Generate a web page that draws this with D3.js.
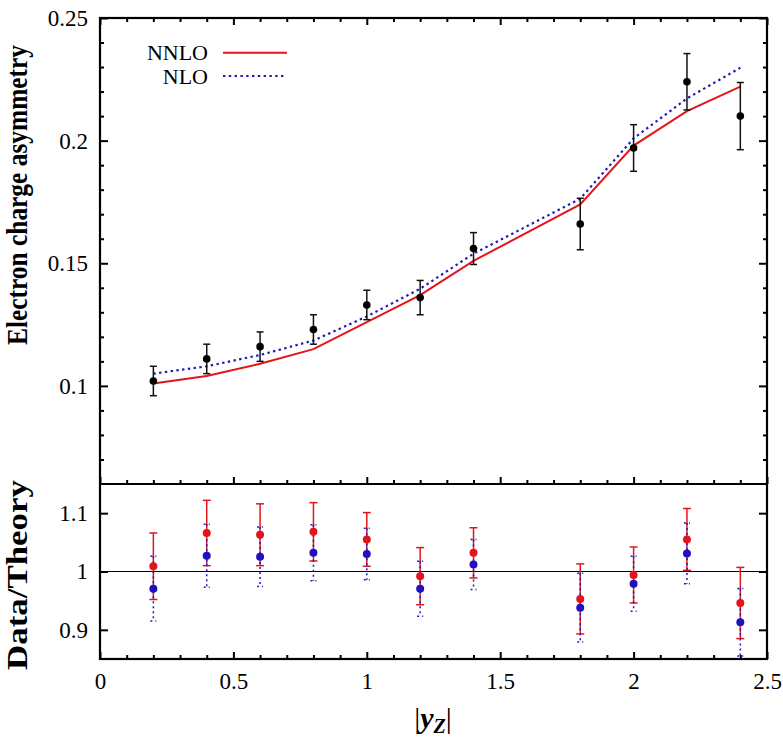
<!DOCTYPE html>
<html><head><meta charset="utf-8">
<script src="https://cdn.jsdelivr.net/npm/d3@7"></script>
<style>
body{margin:0;background:#fff;}
svg{display:block;}
text{font-family:"Liberation Serif","DejaVu Serif",serif;fill:#000;}
</style></head>
<body>
<script>
// ---- data ----
const yZ = [0.2, 0.4, 0.6, 0.8, 1.0, 1.2, 1.4, 1.8, 2.0, 2.2, 2.4];
const asymData = [0.102, 0.111, 0.116, 0.123, 0.133, 0.136, 0.156, 0.166, 0.197, 0.224, 0.210];
const asymErr  = [0.006, 0.006, 0.006, 0.006, 0.006, 0.007, 0.0065, 0.0105, 0.0095, 0.0115, 0.0137];
const nnloTheory = [0.101, 0.104, 0.109, 0.115, 0.126, 0.137, 0.151, 0.174, 0.198, 0.212, 0.222];
const nloTheory  = [0.105, 0.108, 0.1126, 0.1185, 0.1283, 0.1396, 0.1539, 0.1763, 0.2009, 0.2172, 0.2297];
const ratioNNLO    = [1.009, 1.066, 1.063, 1.068, 1.055, 0.992, 1.032, 0.953, 0.994, 1.055, 0.946];
const ratioNNLOErr = [0.057, 0.056, 0.053, 0.050, 0.046, 0.049, 0.043, 0.060, 0.048, 0.053, 0.061];
const ratioNLO     = [0.9705, 1.027, 1.0255, 1.032, 1.030, 0.9705, 1.012, 0.938, 0.979, 1.031, 0.913];
const ratioNLOErr  = [0.0555, 0.054, 0.051, 0.048, 0.044, 0.047, 0.043, 0.059, 0.047, 0.052, 0.058];
const xTicks = [0, 0.5, 1, 1.5, 2, 2.5];
const xTickLabels = ["0", "0.5", "1", "1.5", "2", "2.5"];
const xMinor = [0.1,0.2,0.3,0.4,0.6,0.7,0.8,0.9,1.1,1.2,1.3,1.4,1.6,1.7,1.8,1.9,2.1,2.2,2.3,2.4];
const yTopTicks = [0.1, 0.15, 0.2, 0.25];
const yTopTickLabels = ["0.1", "0.15", "0.2", "0.25"];
const yTopMinor = [0.07,0.08,0.09,0.11,0.12,0.13,0.14,0.16,0.17,0.18,0.19,0.21,0.22,0.23,0.24];
const yBotTicks = [0.9, 1, 1.1];
const yBotTickLabels = ["0.9", "1", "1.1"];
const legendNames = ["NNLO", "NLO"];

// ---- layout ----
const W = 783, H = 756;
const L = 100, R = 767, T = 18, M = 484, B = 659;
const RED = "#e5141b", BLUE = "#2010c0", LBLUE = "#1c1cb4";
const SERIF = "Liberation Serif";

const svg = d3.select("body").append("svg").attr("width", W).attr("height", H)
  .attr("font-family", SERIF);

const x = d3.scaleLinear().domain([0, 2.5]).range([L, R]);
const yT = d3.scaleLinear().domain([0.06, 0.25]).range([M, T]);
const yB = d3.scaleLinear().domain([0.85, 1.15]).range([B, M]);

svg.append("defs").html(
  `<clipPath id="cT"><rect x="${L}" y="${T}" width="${R-L}" height="${M-T}"/></clipPath>
   <clipPath id="cB"><rect x="${L}" y="${M}" width="${R-L}" height="${B-M}"/></clipPath>`);

function addAxis(axis, tx, ty, w) {
  const g = svg.append("g").attr("transform", `translate(${tx},${ty})`).call(axis);
  g.attr("font-family", SERIF).attr("font-size", 23);
  g.select(".domain").remove();
  g.selectAll(".tick line").attr("stroke", "#000").attr("stroke-width", w);
  g.selectAll(".tick text").attr("font-family", SERIF).attr("font-size", 23);
  return g;
}

// x axes
const fmtX = (d) => xTickLabels[xTicks.indexOf(d)];
addAxis(d3.axisTop(x).tickValues(xTicks).tickSize(-7).tickFormat(""), 0, T, 2);
addAxis(d3.axisTop(x).tickValues(xMinor).tickSize(-4).tickFormat(""), 0, T, 2);
addAxis(d3.axisBottom(x).tickValues(xTicks).tickSize(-7).tickFormat(""), 0, M, 2);
addAxis(d3.axisBottom(x).tickValues(xMinor).tickSize(-4).tickFormat(""), 0, M, 2);
addAxis(d3.axisBottom(x).tickValues(xTicks).tickSize(-7).tickPadding(14).tickFormat(fmtX), 0, B, 2);
addAxis(d3.axisBottom(x).tickValues(xMinor).tickSize(-4).tickFormat(""), 0, B, 2);

// y axes, top panel
addAxis(d3.axisLeft(yT).tickValues(yTopTicks).tickSize(-8).tickPadding(12)
  .tickFormat(d => yTopTickLabels[yTopTicks.indexOf(d)]), L, 0, 2);
addAxis(d3.axisLeft(yT).tickValues(yTopMinor).tickSize(-4).tickFormat(""), L, 0, 2);
addAxis(d3.axisRight(yT).tickValues(yTopTicks).tickSize(-8).tickFormat(""), R, 0, 2);
addAxis(d3.axisRight(yT).tickValues(yTopMinor).tickSize(-4).tickFormat(""), R, 0, 2);

// y axes, bottom panel
addAxis(d3.axisLeft(yB).tickValues(yBotTicks).tickSize(-8).tickPadding(12)
  .tickFormat(d => yBotTickLabels[yBotTicks.indexOf(d)]), L, 0, 2);
addAxis(d3.axisRight(yB).tickValues(yBotTicks).tickSize(-8).tickFormat(""), R, 0, 2);

// reference line at 1
svg.append("line").attr("x1", L).attr("x2", R).attr("y1", yB(1)).attr("y2", yB(1))
  .attr("stroke", "#000").attr("stroke-width", 1.2);

// ---- top panel ----
const topG = svg.append("g").attr("clip-path", "url(#cT)");
const idx = d3.range(yZ.length);
const lineNNLO = d3.line().x(i => x(yZ[i])).y(i => yT(nnloTheory[i]));
const lineNLO = d3.line().x(i => x(yZ[i])).y(i => yT(nloTheory[i]));
topG.append("path").attr("d", lineNNLO(idx)).attr("fill", "none").attr("stroke", RED).attr("stroke-width", 2);
topG.append("path").attr("d", lineNLO(idx)).attr("fill", "none").attr("stroke", LBLUE)
  .attr("stroke-width", 2.2).attr("stroke-dasharray", "2.4,3.4");

function errBars(g, ys, es, yScale, color, width, dash, cap) {
  idx.forEach(i => {
    const cx = x(yZ[i]);
    const y1 = yScale(ys[i] + es[i]), y2 = yScale(ys[i] - es[i]);
    const ln = g.append("line").attr("x1", cx).attr("x2", cx).attr("y1", y1).attr("y2", y2);
    const c1 = g.append("line").attr("x1", cx - cap).attr("x2", cx + cap).attr("y1", y1).attr("y2", y1);
    const c2 = g.append("line").attr("x1", cx - cap).attr("x2", cx + cap).attr("y1", y2).attr("y2", y2);
    [ln, c1, c2].forEach(l => {
      l.attr("stroke", color).attr("stroke-width", width);
      if (dash) l.attr("stroke-dasharray", dash);
    });
  });
}
errBars(topG, asymData, asymErr, yT, "#111", 1.5, null, 3.5);
topG.selectAll("circle.d").data(idx).enter().append("circle")
  .attr("cx", i => x(yZ[i])).attr("cy", i => yT(asymData[i])).attr("r", 3.8).attr("fill", "#000");

// legend
const leg = svg.append("g");
[0, 1].forEach(k => {
  const ly = k === 0 ? 52.7 : 76;
  leg.append("text").attr("x", 208).attr("y", ly + 7.5).attr("text-anchor", "end")
    .attr("font-family", SERIF).attr("font-size", 22).text(legendNames[k]);
  const l = leg.append("line").attr("x1", 223).attr("x2", k === 0 ? 287 : 285).attr("y1", ly).attr("y2", ly)
    .attr("stroke", k === 0 ? RED : LBLUE).attr("stroke-width", 2);
  if (k === 1) l.attr("stroke-dasharray", "2.4,3.4").attr("stroke-width", 2.2);
});

// ---- bottom panel ----
const botG = svg.append("g").attr("clip-path", "url(#cB)");
errBars(botG, ratioNNLO, ratioNNLOErr, yB, RED, 1.5, null, 4);
errBars(botG, ratioNLO, ratioNLOErr, yB, LBLUE, 1.5, "2,3", 3);
botG.selectAll("circle.r").data(idx).enter().append("circle")
  .attr("cx", i => x(yZ[i])).attr("cy", i => yB(ratioNNLO[i])).attr("r", 4).attr("fill", RED);
botG.selectAll("circle.b").data(idx).enter().append("circle")
  .attr("cx", i => x(yZ[i])).attr("cy", i => yB(ratioNLO[i])).attr("r", 4).attr("fill", BLUE);

// frame
svg.append("rect").attr("x", L).attr("y", T).attr("width", R - L).attr("height", B - T)
  .attr("fill", "none").attr("stroke", "#000").attr("stroke-width", 2.2);
svg.append("line").attr("x1", L).attr("x2", R).attr("y1", M).attr("y2", M)
  .attr("stroke", "#000").attr("stroke-width", 2.2);

// axis titles
svg.append("text").attr("transform", "translate(27,195) rotate(-90)").attr("text-anchor", "middle")
  .attr("font-family", SERIF).attr("font-size", 29).attr("font-weight", "bold")
  .attr("textLength", 300).attr("lengthAdjust", "spacingAndGlyphs")
  .text("Electron charge asymmetry");
svg.append("text").attr("transform", "translate(27,575) rotate(-90)").attr("text-anchor", "middle")
  .attr("font-family", SERIF).attr("font-size", 29).attr("font-weight", "bold")
  .attr("textLength", 190).attr("lengthAdjust", "spacingAndGlyphs")
  .text("Data/Theory");

const xl = svg.append("text").attr("x", 433).attr("y", 728).attr("text-anchor", "middle")
  .attr("font-family", SERIF).attr("font-size", 30);
xl.append("tspan").text("|");
xl.append("tspan").attr("font-weight", "bold").attr("font-style", "italic").text("y");
xl.append("tspan").attr("font-weight", "bold").attr("font-style", "italic").attr("font-size", 20).attr("dy", 5).text("Z");
xl.append("tspan").attr("dy", -5).text("|");
</script>
</body></html>
